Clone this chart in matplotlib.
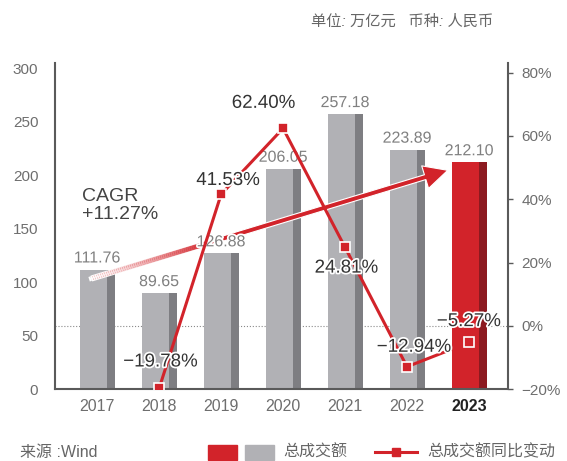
import numpy as np
import matplotlib
matplotlib.use('Agg')
import matplotlib.pyplot as plt
import matplotlib.patheffects as pe
from matplotlib.patches import FancyArrowPatch, Rectangle
from matplotlib.collections import LineCollection
from matplotlib.lines import Line2D
from matplotlib.transforms import blended_transform_factory
from matplotlib.colors import to_rgba

plt.rcParams['font.family'] = ['Liberation Sans', 'Noto Sans CJK SC', 'DejaVu Sans']

# 数据
years = ['2017', '2018', '2019', '2020', '2021', '2022', '2023']
turnover = [111.76, 89.65, 126.88, 206.05, 257.18, 223.89, 212.10]
yoy = [np.nan, -19.78, 41.53, 62.40, 24.81, -12.94, -5.27]
cagr_text = 'CAGR\n+11.27%'

# 颜色
RED = '#d2232a'
RED_DARK = '#8c1a20'
GRAY = '#b1b1b5'
GRAY_DARK = '#7e7e82'
TXT = '#6e6e6e'
SPINE = '#5a5a5a'

# 百分比标签偏移 (points)
pct_offsets = [None, (1, 19), (5, 10), (-14, 18), (1, -15), (5, 14), (0, 15)]

fig = plt.figure(figsize=(5.67, 4.61), dpi=100)
ax = fig.add_axes([0.097, 0.156, 0.799, 0.707])
ax2 = ax.twinx()

x = np.arange(len(years))
front_w = 0.435
side_w = 0.13
front_colors = [GRAY] * (len(years) - 1) + [RED]
side_colors = [GRAY_DARK] * (len(years) - 1) + [RED_DARK]

# 柱子 (正面 + 侧面)
ax.bar(x - 0.28, turnover, width=front_w, align='edge', color=front_colors, zorder=2)
ax.bar(x - 0.28 + front_w, turnover, width=side_w, align='edge', color=side_colors, zorder=2)

for i, v in enumerate(turnover):
    ax.annotate(f'{v:.2f}', (x[i], v), xytext=(0, 3), textcoords='offset points',
                ha='center', va='bottom', fontsize=11.5, color='#808080', zorder=6,
                path_effects=[pe.withStroke(linewidth=2.5, foreground='white')])

ax.set_xlim(-0.68, 6.63)
ax.set_ylim(0, 305)
ax.set_yticks([0, 50, 100, 150, 200, 250, 300])
ax.set_xticks(x)
ax.set_xticklabels(years)
ax.tick_params(axis='y', length=0, pad=12, labelsize=11, labelcolor=TXT)
ax.tick_params(axis='x', length=0, pad=7, labelsize=11.5, labelcolor=TXT)
last = ax.get_xticklabels()[-1]
last.set_fontweight('bold')
last.set_color('#222222')

for s in ['top', 'right']:
    ax.spines[s].set_visible(False)
for s in ['left', 'bottom']:
    ax.spines[s].set_color(SPINE)
    ax.spines[s].set_linewidth(1.5)

# 0% 虚线 (画在柱子下面)
trans = blended_transform_factory(ax.transAxes, ax2.transData)
ax.plot([0, 1], [0, 0], transform=trans, color='#8a8a8a', ls=':', lw=0.8, zorder=1)

# CAGR 箭头
x0, y0 = -0.13, 102.8
x1, y1 = 5.7, 205.5
arrow = FancyArrowPatch((x0, y0), (x1, y1),
                        arrowstyle='simple,head_length=1.7,head_width=1.7,tail_width=0.36',
                        mutation_scale=10, facecolor=RED, edgecolor='white', lw=0.8, zorder=3)
ax.add_patch(arrow)
n = 60
t = np.linspace(0, 0.33, n + 1)
xs = x0 + (x1 - x0) * t
ys = y0 + (y1 - y0) * t
segs = [[(xs[k], ys[k]), (xs[k + 1], ys[k + 1])] for k in range(n)]
w = to_rgba('white')
r = to_rgba(RED)
cols = [tuple(w[c] + (r[c] - w[c]) * (k / n) ** 1.3 for c in range(4)) for k in range(n)]
lc = LineCollection(segs, colors=cols, linewidths=3.4, capstyle='butt', zorder=3.5)
ax.add_collection(lc)

ax.text(-0.24, 172, cagr_text, fontsize=14, color='#444444', ha='left', va='center',
        linespacing=1.1, zorder=6)

# 同比折线
ax2.plot(x, yoy, color=RED, lw=2.2, marker='s', markersize=6.5, markerfacecolor=RED,
         markeredgecolor='white', markeredgewidth=1.2, zorder=4)

for i, v in enumerate(yoy):
    if np.isnan(v):
        continue
    label = f'{v:.2f}%'.replace('-', '\u2212')
    ax2.annotate(label, (x[i], v), xytext=pct_offsets[i], textcoords='offset points',
                 ha='center', va='center', fontsize=13.5, color='#333333', zorder=7,
                 path_effects=[pe.withStroke(linewidth=2.5, foreground='white')])

ax2.set_ylim(-20, 83)
ax2.set_yticks([-20, 0, 20, 40, 60, 80])
ax2.set_yticklabels(['\u221220%', '0%', '20%', '40%', '60%', '80%'])
ax2.tick_params(axis='y', length=3.6, width=1, color=SPINE, pad=6, labelsize=11, labelcolor=TXT)
for s in ['top', 'left', 'bottom']:
    ax2.spines[s].set_visible(False)
ax2.spines['right'].set_color(SPINE)
ax2.spines['right'].set_linewidth(1.5)

# 页眉 / 来源
fig.text(493 / 567, 1 - 22 / 461, '单位: 万亿元   币种: 人民币', ha='right', va='center',
         fontsize=11, color='#666666', style='italic')
fig.text(20 / 567, 1 - 452 / 461, '来源 :Wind', ha='left', va='center',
         fontsize=11.5, color='#666666')

# 图例 (手工)
W, H = 567, 461
fig.patches.append(Rectangle((208 / W, 1 - 460 / H), 29 / W, 15 / H, color=RED,
                             transform=fig.transFigure, figure=fig))
fig.patches.append(Rectangle((245 / W, 1 - 460 / H), 29 / W, 15 / H, color=GRAY,
                             transform=fig.transFigure, figure=fig))
fig.text(283 / W, 1 - 452 / H, '总成交额', ha='left', va='center', fontsize=11.5, color='#666666')
fig.lines.append(Line2D([375 / W, 417 / W], [1 - 452 / H] * 2, color=RED, lw=2.2,
                        transform=fig.transFigure, figure=fig))
fig.lines.append(Line2D([396 / W], [1 - 452 / H], color=RED, marker='s', markersize=6,
                        transform=fig.transFigure, figure=fig))
fig.text(427 / W, 1 - 452 / H, '总成交额同比变动', ha='left', va='center', fontsize=11.5, color='#666666')

fig.savefig('out.png', dpi=100)
